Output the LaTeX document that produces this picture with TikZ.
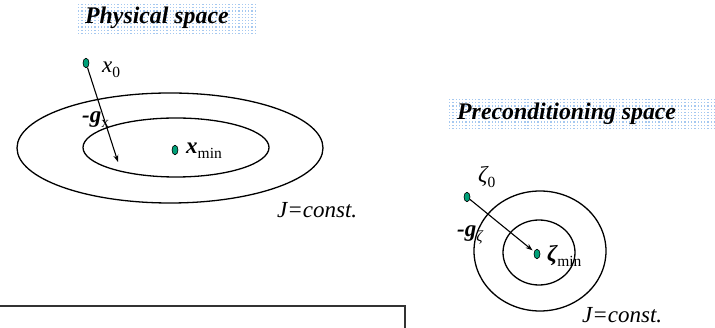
\documentclass[tikz,border=0pt]{standalone}
\usepackage{fontspec}
\setmainfont{Liberation Serif}
\usetikzlibrary{shapes.geometric,arrows.meta}
\definecolor{dotgreen}{RGB}{0,160,120}
\definecolor{dotblue}{RGB}{165,200,240}
\tikzset{
 pt/.style={ellipse, draw=black, line width=0.6pt, fill=dotgreen, minimum width=6pt, minimum height=9.5pt, inner sep=0pt},
 lbl/.style={inner sep=0pt, anchor=base west, font=\fontsize{23}{26}\selectfont},
 ttl/.style={inner sep=0pt, anchor=base west, font=\fontsize{23.8}{26}\selectfont\bfseries\itshape},
 contour/.style={line width=1.3pt},
 grad/.style={line width=1.1pt, -{Stealth[length=7pt,width=5pt]}},
 frame/.style={line width=2pt, draw=black!80},
}
\newcommand{\subsc}[1]{\raisebox{-4.5pt}{\normalfont\fontsize{15.5}{15}\selectfont #1}}
\begin{document}
\begin{tikzpicture}[x=1pt,y=-1pt]
\useasboundingbox (0,0) rectangle (715,328);
% dotted title backgrounds
\foreach \i in {0,...,54}{\foreach \j in {0,...,9}{\fill[dotblue] (78+\i*3.27,4+\j*3.2) rectangle ++(1.3,1.3);}}
\foreach \i in {0,...,81}{\foreach \j in {0,...,9}{\fill[dotblue] (449+\i*3.27,99+\j*3.2) rectangle ++(1.3,1.3);}}
\node[ttl] (t1) at (85,24) {Physical space};
\node[ttl] (t2) at (457,120) {Preconditioning space};
% physical space
\draw[contour] (170,148) ellipse [x radius=153, y radius=55];
\draw[contour] (176,147.5) ellipse [x radius=93, y radius=29.5];
\node[pt] (x0) at (86,63) {};
\node[pt] (xmin) at (175,150) {};
\coordinate (gxend) at (118,162);
\draw[grad] (x0) -- (gxend);
\node[lbl] (x0l) at (102,73) {\itshape x\subsc{0}};
\node[lbl] (xminl) at (186,154) {\bfseries\itshape x\subsc{min}};
\node[lbl] (gxl) at (82,123) {\bfseries\itshape -g\subsc{x}};
\node[lbl] (J1) at (277,218) {\itshape J=const.};
% preconditioning space
\draw[contour] (540,251) ellipse [x radius=66, y radius=60];
\draw[contour] (539,252.5) ellipse [x radius=36, y radius=32.5];
\node[pt] (z0) at (467,197) {};
\node[pt] (zmin) at (537,254) {};
\draw[grad, shorten >=2pt] (z0) -- (zmin);
\node[lbl] (z0l) at (478,183) {\itshape ζ\subsc{0}};
\node[lbl] (zminl) at (547,262) {\bfseries\itshape ζ\subsc{min}};
\node[lbl] (gzl) at (457,237) {\bfseries\itshape -g\subsc{\itshape ζ}};
\node[lbl] (J2) at (582,323) {\itshape J=const.};
% frame at bottom
\draw[frame] (-5,306) -- (405,306) -- (405,335);
\end{tikzpicture}
\end{document}
